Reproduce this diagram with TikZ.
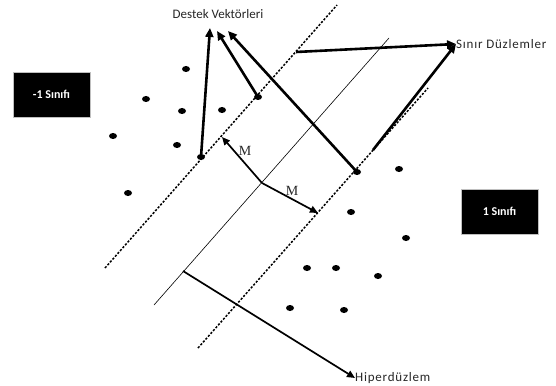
\documentclass[tikz,border=0pt]{standalone}
\usepackage{fontspec}
\setmainfont{Carlito}
\newfontfamily\mfont{Liberation Serif}
\newfontfamily\widefont[LetterSpace=6]{Carlito}
\usetikzlibrary{arrows.meta,shapes.geometric}
\begin{document}
\begin{tikzpicture}[x=1pt,y=-1pt,
  pt/.style={ellipse,fill=black,inner sep=0pt,minimum width=8pt,minimum height=6pt},
  margin/.style={line width=1.5pt,dash pattern=on 2.2pt off 1.6pt},
  hyper/.style={line width=0.6pt},
  bigarrow/.style={line width=2.6pt,-{Triangle[length=9pt,width=8pt]}},
  arr/.style={line width=1.7pt,-{Triangle[length=8pt,width=7pt]}},
  classbox/.style={fill=black,draw=gray!50,line width=0.8pt,text=white,
    font=\bfseries\fontsize{12}{13}\selectfont,minimum width=77pt,minimum height=45pt,inner sep=0pt},
  lbl/.style={font=\fontsize{13}{14}\selectfont,text=black!85,inner sep=0pt},
  mlbl/.style={font=\mfont\fontsize{14}{15}\selectfont,text=black!85,inner sep=0pt}]
\useasboundingbox (0,0) rectangle (556,385);

% margin planes and the separating hyperplane
\coordinate (l1) at (105,268); \coordinate (l2) at (337,5);
\coordinate (h1) at (154,305); \coordinate (h2) at (389,38);
\coordinate (r1) at (198,348); \coordinate (r2) at (428,88);
\draw[margin] (l1) -- (l2);
\draw[hyper] (h1) -- (h2);
\draw[margin] (r1) -- (r2);

% class -1 samples
\node[pt] (a1) at (186,69) {};
\node[pt] (a2) at (146,99) {};
\node[pt] (a3) at (182,111) {};
\node[pt] (a4) at (222,110) {};
\node[pt] (a5) at (113,136) {};
\node[pt] (a6) at (177,145) {};
\node[pt] (a7) at (128,193) {};
\node[pt] (sv1) at (201,157) {};
\node[pt] (sv2) at (258,97) {};

% class 1 samples
\node[pt] (b1) at (399,169) {};
\node[pt] (b2) at (351,212) {};
\node[pt] (b3) at (406,238) {};
\node[pt] (b4) at (307,268) {};
\node[pt] (b5) at (336,268) {};
\node[pt] (b6) at (378,276) {};
\node[pt] (b7) at (290,308) {};
\node[pt] (b8) at (344,310) {};
\node[pt] (sv3) at (357,172) {};

% labels
\node[lbl] (dv) at (218,14) {Destek Vektörleri};
\node[lbl,font=\widefont\fontsize{13}{14}\selectfont,anchor=west] (sd) at (456,44) {Sınır Düzlemler};
\node[lbl,font=\widefont\fontsize{13}{14}\selectfont,anchor=west] (hd) at (355,378) {Hiperdüzlem};
\node[classbox] (c1) at (51.5,94.5) {-1 Sınıfı};
\node[classbox] (c2) at (499.5,211.5) {1 Sınıfı};

% arrows to the support vectors label
\coordinate (dv1) at (210,28);
\coordinate (dv2) at (217,31);
\coordinate (dv3) at (228,31);
\draw[bigarrow] (sv1.center) -- (dv1);
\draw[bigarrow] (sv2.center) -- (dv2);
\draw[bigarrow] (sv3.center) -- (dv3);

% arrows to the boundary planes label
\coordinate (sl) at (296,52);
\coordinate (sr) at (373,150);
\draw[bigarrow] (sl) -- (sd.west);
\draw[bigarrow] (sr) -- (sd.west);

% margin widths
\coordinate (o) at (262,183);
\coordinate (ml) at (222,137);
\coordinate (mr) at (318,213);
\draw[arr] (o) -- (ml);
\draw[arr] (o) -- (mr);
\node[mlbl] (m1) at (245,151) {M};
\node[mlbl] (m2) at (292,191) {M};

% arrow to the hyperplane label
\coordinate (hp) at (183,271);
\draw[arr] (hp) -- (hd.west);
\end{tikzpicture}
\end{document}
